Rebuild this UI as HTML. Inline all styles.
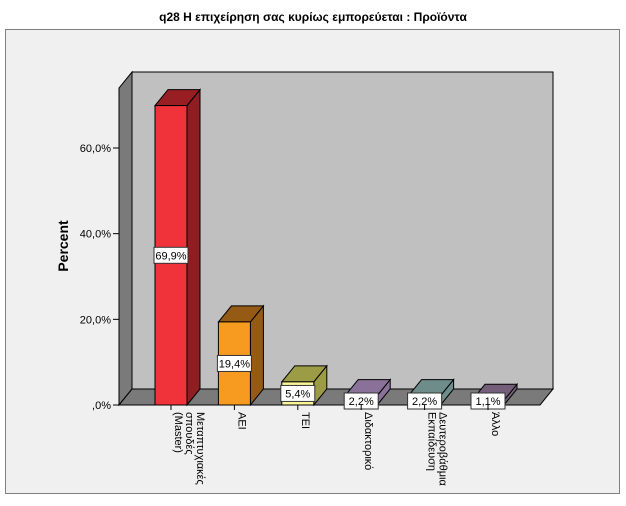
<!DOCTYPE html>
<html><head><meta charset="utf-8"><style>
body{margin:0;background:#fff;width:626px;height:501px;overflow:hidden;font-family:"Liberation Sans","DejaVu Sans",sans-serif}
</style></head><body>
<svg width="626" height="501" xmlns="http://www.w3.org/2000/svg">
<text x="313" y="21" text-anchor="middle" font-size="12" font-weight="bold" font-family="Liberation Sans, DejaVu Sans, sans-serif">q28 Η επιχείρηση σας κυρίως εμπορεύεται : Προϊόντα</text>
<rect x="5.5" y="29.5" width="614" height="464" fill="#f0f0f0" stroke="#808080"/>
<g id="plot"></g>
<text transform="translate(68,246) rotate(-90)" text-anchor="middle" font-size="14" font-weight="bold" font-family="Liberation Sans, sans-serif">Percent</text>
</svg>
<script>
const categories=["Μεταπτυχιακές σπουδές (Master)","ΑΕΙ","ΤΕΙ","Διδακτορικό","Δευτεροβάθμια Εκπαίδευση","Άλλο"];
const catLines=[["Μεταπτυχιακές","σπουδές","(Master)"],["ΑΕΙ"],["ΤΕΙ"],["Διδακτορικό"],["Δευτεροβάθμια","Εκπαίδευση"],["Άλλο"]];
const values=[69.9,19.4,5.4,2.2,2.2,1.1];
const valueLabels=["69,9%","19,4%","5,4%","2,2%","2,2%","1,1%"];
const yTicks=[0,20,40,60];
const yTickLabels=[",0%","20,0%","40,0%","60,0%"];
const fronts=["#f0323a","#f79a20","#fbf59a","#8a7199","#6e8c8a","#755e7a"];
const tops=["#981e24","#955a14","#9c9c46","#8a7199","#6e8c8a","#755e7a"];
const sides=["#8e1e22","#955a14","#9c9c46","#8a7199","#6e8c8a","#755e7a"];
const NS="http://www.w3.org/2000/svg";
const g=document.getElementById('plot');
const y0=405,ppu=257/60,dx=13,dy=-16,x0=155,step=63.4,bw=32;
const yS=v=>y0-v*ppu;
function el(t,a){const e=document.createElementNS(NS,t);for(const k in a)e.setAttribute(k,a[k]);g.appendChild(e);return e;}
let w=el('polygon',{points:`119,${y0} 132,389 132,72 119,88`,fill:'#7a7a7a',stroke:'#000'});

w=el('rect',{x:132,y:72,width:421,height:317,fill:'#c0c0c0',stroke:'#000'});

w=el('polygon',{points:`119,${y0} 132,389 553,389 540,${y0}`,fill:'#7a7a7a',stroke:'#000'});

yTicks.forEach((t,i)=>{
 const y=yS(t);
 const l=el('line',{x1:113,x2:119,y1:y,y2:y,stroke:'#000'});
 
 const tx=el('text',{x:111,y:y+4,'text-anchor':'end','font-size':11});
 tx.textContent=yTickLabels[i];
 
});
values.forEach((v,i)=>{
 const x=x0+i*step, yt=yS(v);
 const side=el('polygon',{points:`${x+bw},${y0} ${x+bw+dx},${y0+dy} ${x+bw+dx},${yt+dy} ${x+bw},${yt}`,fill:sides[i],stroke:'#000'});
 
 const top=el('polygon',{points:`${x},${yt} ${x+dx},${yt+dy} ${x+bw+dx},${yt+dy} ${x+bw},${yt}`,fill:tops[i],stroke:'#000'});
 
 const f=el('rect',{x:x,y:yt,width:bw,height:y0-yt,fill:fronts[i],stroke:'#000'});
 
 const cx=x+bw/2;
 let ly=(yt+y0)/2; if(y0-yt<20) ly=Math.max(Math.min(ly+4,401),394);
 const bx=el('rect',{x:cx-17,y:ly-8,width:34,height:16,fill:'#fff',stroke:'#333'});
 
 const lt=el('text',{x:cx,y:ly+4,'text-anchor':'middle','font-size':11});
 lt.textContent=valueLabels[i];
 
 const tk=el('line',{x1:cx,x2:cx,y1:y0,y2:y0+5,stroke:'#000'});
 
 const lines=catLines[i];
 lines.forEach((s,j)=>{
  const t=el('text',{transform:`translate(${cx+4-j*11+(lines.length-1)*11},${y0+7}) rotate(90)`,'font-size':11});
  t.textContent=s;
  
 });
});
</script>
</body></html>
